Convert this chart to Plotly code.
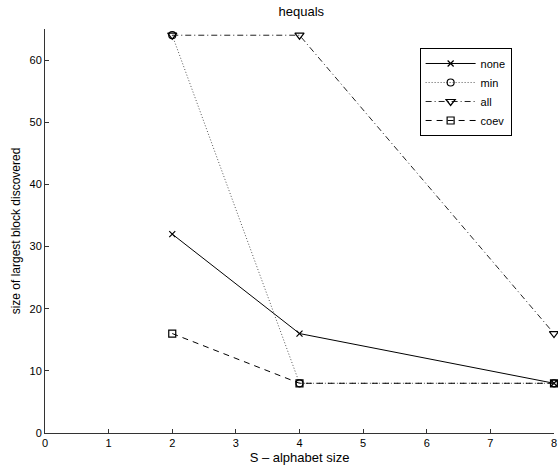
import plotly.graph_objects as go

x_vals = [2, 4, 8]
none_vals = [32, 16, 8]
min_vals = [64, 8, 8]
all_vals = [64, 64, 16]
coev_vals = [16, 8, 8]
series_names = ["none", "min", "all", "coev"]
x_ticks = [0, 1, 2, 3, 4, 5, 6, 7, 8]
y_ticks = [0, 10, 20, 30, 40, 50, 60]

styles = [
    dict(symbol="x-thin-open", dash="solid", color="black", size=6),
    dict(symbol="circle-open", dash="1px,2px", color="#555555", size=7),
    dict(symbol="triangle-down-open", dash="6px,3px,1px,3px", color="#222222", size=8),
    dict(symbol="square-open", dash="6px,5px", color="black", size=7),
]
data = [none_vals, min_vals, all_vals, coev_vals]

fig = go.Figure()
for name, ys, st in zip(series_names, data, styles):
    fig.add_trace(go.Scatter(
        x=x_vals, y=ys, name=name, mode="lines+markers",
        line=dict(color=st["color"], width=1, dash=st["dash"]),
        marker=dict(symbol=st["symbol"], size=st["size"], color="black",
                    line=dict(color="black", width=1.2)),
        cliponaxis=False,
    ))

fig.update_layout(
    width=558, height=467,
    margin=dict(l=45, r=1, t=29, b=34),
    paper_bgcolor="white", plot_bgcolor="white",
    font=dict(family="Liberation Sans, Arial, sans-serif", size=11, color="black"),
    title=dict(text="hequals", x=0.54, xanchor="center", y=0.985, yanchor="top",
               font=dict(size=13)),
    showlegend=True,
    legend=dict(x=0.736, y=0.953, xanchor="left", yanchor="top",
                bordercolor="black", borderwidth=1, bgcolor="white",
                font=dict(size=11), tracegroupgap=0, itemwidth=50),
)
fig.update_xaxes(range=[0, 8], tickvals=x_ticks, ticks="inside", ticklen=4,
                 showline=True, linecolor="#333333", linewidth=1, showgrid=False,
                 zeroline=False, tickcolor="#333333", ticklabeloverflow="allow",
                 title=dict(text="S – alphabet size", font=dict(size=13), standoff=4))
fig.update_yaxes(range=[0, 65], tickvals=y_ticks, ticks="inside", ticklen=4,
                 showline=True, linecolor="#333333", linewidth=1, showgrid=False,
                 zeroline=False, tickcolor="#333333",
                 title=dict(text="size of largest block discovered", font=dict(size=12), standoff=6))

fig.write_html("out.html")
